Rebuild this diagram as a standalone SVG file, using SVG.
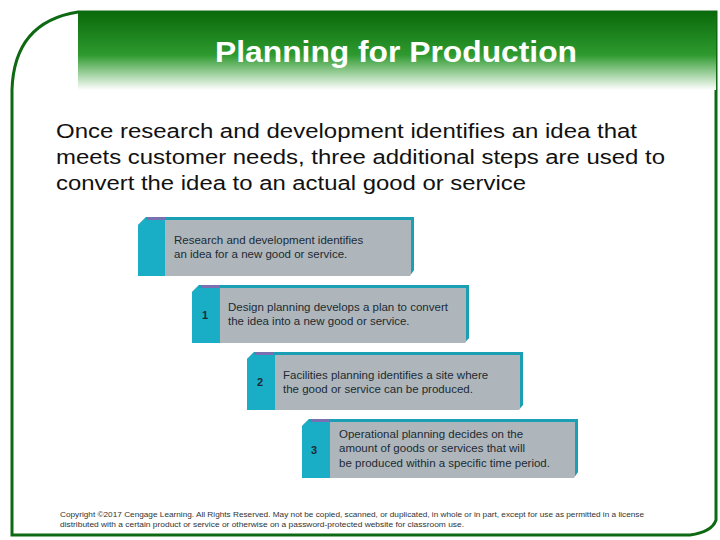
<svg xmlns="http://www.w3.org/2000/svg" width="720" height="540" viewBox="0 0 720 540">
<defs>
<linearGradient id="hg" x1="0" y1="0" x2="0" y2="1">
<stop offset="0" stop-color="#0a6a0a"/><stop offset="0.55" stop-color="#2e9a2e"/><stop offset="1" stop-color="#ffffff"/>
</linearGradient>
<style>
.box{fill:#aeb6bb}
.strip{fill:#19aec6}
.edge{fill:#1b9fb5}
.t{font-family:"Liberation Sans",Arial,sans-serif;font-size:11.5px;fill:#1c2a33}
.n{font-family:"Liberation Sans",Arial,sans-serif;font-size:11px;font-weight:bold;fill:#1c2a33}
</style>
</defs>
<rect width="720" height="540" fill="#fff"/>
<path d="M78,12 L716,12 L716,520 Q712,532 690,535 L12,535 L12,90 Q14,22 78,12 Z" fill="none" stroke="#0e6a12" stroke-width="3"/>
<rect x="78" y="12" width="638" height="78" fill="url(#hg)"/>
<text x="215" y="62" textLength="362" lengthAdjust="spacingAndGlyphs" font-family="Liberation Sans,Arial,sans-serif" font-size="29" font-weight="bold" fill="#fff">Planning for Production</text>
<g font-family="Liberation Sans,Arial,sans-serif" font-size="20" fill="#111">
<text x="56" y="138" textLength="581" lengthAdjust="spacingAndGlyphs">Once research and development identifies an idea that</text>
<text x="56" y="164" textLength="609" lengthAdjust="spacingAndGlyphs">meets customer needs, three additional steps are used to</text>
<text x="56" y="190" textLength="470" lengthAdjust="spacingAndGlyphs">convert the idea to an actual good or service</text>
</g>
<g id="step0">
<path d="M138,225 L146,217 L414,217 L414,270 L410,276 L138,276 Z" class="box"/>
<path d="M138,225 L146,217 L165,217 L165,276 L138,276 Z" class="strip"/>
<rect x="146" y="217" width="268" height="3" class="edge"/><rect x="148" y="217" width="18" height="3" fill="#7a6fb0"/>
<path d="M411,217 L414,217 L414,270 L411,274 Z" class="edge"/>
<text class="t" x="174" y="244">Research and development identifies</text>
<text class="t" x="174" y="258">an idea for a new good or service.</text>
</g>
<g id="step1">
<path d="M192,292 L199,285 L469,285 L469,338 L465,343 L192,343 Z" class="box"/>
<path d="M192,292 L199,285 L220,285 L220,343 L192,343 Z" class="strip"/>
<rect x="199" y="285" width="270" height="3" class="edge"/><rect x="201" y="285" width="18" height="3" fill="#7a6fb0"/>
<path d="M466,285 L469,285 L469,338 L466,341 Z" class="edge"/>
<text class="n" x="202" y="319">1</text>
<text class="t" x="228" y="311">Design planning develops a plan to convert</text>
<text class="t" x="228" y="325">the idea into a new good or service.</text>
</g>
<g id="step2">
<path d="M247,359 L254,352 L523,352 L523,405 L519,410 L247,410 Z" class="box"/>
<path d="M247,359 L254,352 L275,352 L275,410 L247,410 Z" class="strip"/>
<rect x="254" y="352" width="269" height="3" class="edge"/><rect x="256" y="352" width="18" height="3" fill="#7a6fb0"/>
<path d="M520,352 L523,352 L523,405 L520,408 Z" class="edge"/>
<text class="n" x="257" y="386">2</text>
<text class="t" x="283" y="379">Facilities planning identifies a site where</text>
<text class="t" x="283" y="393">the good or service can be produced.</text>
</g>
<g id="step3">
<path d="M302,426 L309,419 L578,419 L578,472 L574,478 L302,478 Z" class="box"/>
<path d="M302,426 L309,419 L330,419 L330,478 L302,478 Z" class="strip"/>
<rect x="309" y="419" width="269" height="3" class="edge"/><rect x="311" y="419" width="18" height="3" fill="#7a6fb0"/>
<path d="M575,419 L578,419 L578,472 L575,476 Z" class="edge"/>
<text class="n" x="311" y="454">3</text>
<text class="t" x="339" y="438">Operational planning decides on the</text>
<text class="t" x="339" y="452">amount of goods or services that will</text>
<text class="t" x="339" y="467">be produced within a specific time period.</text>
</g>
<g id="connectors"/>
<g font-family="Liberation Sans,Arial,sans-serif" font-size="7.5" fill="#333">
<text x="60" y="517" textLength="584" lengthAdjust="spacingAndGlyphs">Copyright ©2017 Cengage Learning. All Rights Reserved. May not be copied, scanned, or duplicated, in whole or in part, except for use as permitted in a license</text>
<text x="60" y="527" textLength="404" lengthAdjust="spacingAndGlyphs">distributed with a certain product or service or otherwise on a password-protected website for classroom use.</text>
</g>
</svg>
